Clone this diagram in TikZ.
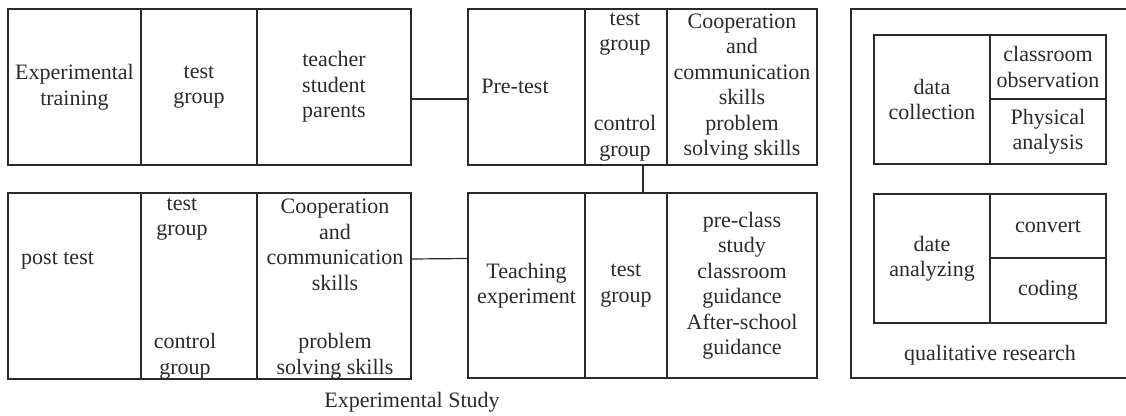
\documentclass[tikz,border=0pt]{standalone}
\usepackage{fontspec}
\setmainfont{Liberation Serif}
\definecolor{ink}{HTML}{2A2A2A}
\begin{document}
\begin{tikzpicture}[x=1pt,y=-1pt,
  cell/.style={draw=ink, line width=1.2pt, inner sep=0pt, outer sep=0pt,
    anchor=north west, align=center, text=ink,
    font=\fontsize{22}{25.5}\selectfont},
  txt/.style={inner sep=0pt, align=center, text=ink,
    font=\fontsize{22}{25.5}\selectfont},
  link/.style={draw=ink, line width=1.2pt}]
\useasboundingbox (0,0) rectangle (1126,415);

% Experimental training row
\node[cell, minimum width=133, minimum height=156] (etA) at (8,9) {Experimental\\training};
\node[cell, minimum width=116, minimum height=156] (etB) at (141,9) {test\\group};
\node[cell, minimum width=154, minimum height=156] (etC) at (257,9) {teacher\\student\\parents};

% Pre-test row
\node[cell, minimum width=117, minimum height=156] (ptA) at (468,9) {};
\node[cell, minimum width=82, minimum height=156] (ptB) at (585,9) {};
\node[cell, minimum width=150, minimum height=156] (ptC) at (667,9)
  {Cooperation\\and\\communication\\skills\\problem\\solving skills};
\node[txt] (ptAt) at (515,86) {Pre-test};
\node[txt] (ptBt) at (625,34) {test\\group};
\node[txt] (ptBc) at (625,138) {control\\group};

% Post test row
\node[cell, minimum width=133, minimum height=186] (psA) at (8,193) {};
\node[cell, minimum width=116, minimum height=186] (psB) at (141,193) {};
\node[cell, minimum width=154, minimum height=186] (psC) at (257,193) {};
\node[txt, anchor=west] (psAt) at (21,261) {post test};
\node[txt] (psBt) at (182,219) {test\\group};
\node[txt] (psBc) at (185,356) {control\\group};
\node[txt] (psCt) at (335,245) {Cooperation\\and\\communication\\skills};
\node[txt] (psCp) at (335,356) {problem\\solving skills};

% Teaching experiment row
\node[cell, minimum width=117, minimum height=185] (teA) at (468,193) {Teaching\\experiment};
\node[cell, minimum width=82, minimum height=185] (teB) at (585,193) {test\\group};
\node[cell, minimum width=150, minimum height=185] (teC) at (667,193)
  {pre-class\\study\\classroom\\guidance\\After-school\\guidance};

% Connectors between the blocks
\draw[link] ([yshift=-12pt]etC.east) -- ([yshift=-12pt]ptA.west);
\draw[link] ([xshift=17pt]ptB.south) -- ([xshift=17pt]teB.north);
\draw[link] ([yshift=27pt]psC.east) -- ([yshift=27pt]teA.west);

\node[txt] (expstudy) at (412,402) {Experimental Study};

% Qualitative research panel
\draw[link] (1130,9) -- (851,9) -- (851,378) -- (1130,378);
\node[cell, minimum width=116, minimum height=129] (dcA) at (874,35) {data\\collection};
\node[cell, minimum width=116, minimum height=64] (dcB) at (990,35) {classroom\\observation};
\node[cell, minimum width=116, minimum height=65] (dcC) at (990,99) {Physical\\analysis};
\node[cell, minimum width=116, minimum height=129] (daA) at (874,194) {date\\analyzing};
\node[cell, minimum width=116, minimum height=64] (daB) at (990,194) {convert};
\node[cell, minimum width=116, minimum height=65] (daC) at (990,258) {coding};
\node[txt] (qual) at (990,355) {qualitative research};
\end{tikzpicture}
\end{document}
